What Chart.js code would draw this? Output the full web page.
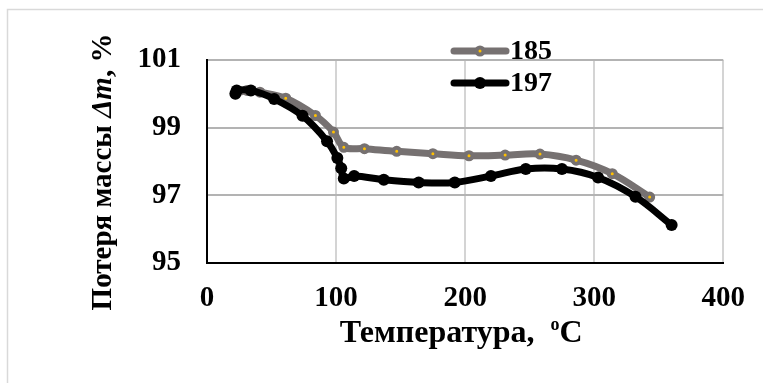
<!DOCTYPE html>
<html>
<head>
<meta charset="utf-8">
<script src="https://cdn.jsdelivr.net/npm/chart.js@4.4.1/dist/chart.umd.min.js"></script>
<style>
  html, body { margin: 0; padding: 0; background: #fff; }
  #wrap { position: relative; width: 763px; height: 383px; }
</style>
</head>
<body>
<div id="wrap"><canvas id="chart" width="763" height="383"></canvas></div>
<script>
// данные
const seriesNames = ['185', '197'];
const temp185 = [22, 31, 41, 61, 84, 98, 106, 122, 147, 175, 203, 231, 258, 286, 314, 343];
const mass185 = [100.0, 100.1, 100.05, 99.87, 99.36, 98.87, 98.42, 98.38, 98.30, 98.23, 98.17, 98.19, 98.22, 98.04, 97.64, 96.95];
const temp197 = [22, 23, 34, 52, 74, 93, 101, 104, 106, 114, 137, 164, 192, 220, 247, 275, 303, 332, 360];
const mass197 = [100.0, 100.1, 100.1, 99.85, 99.35, 98.6, 98.1, 97.8, 97.5, 97.57, 97.46, 97.38, 97.38, 97.57, 97.78, 97.78, 97.53, 96.96, 96.12];
const xTicks = [0, 100, 200, 300, 400];
const yTicks = [95, 97, 99, 101];
const xTitleParts = [['Температура,  ', 'normal'], ['o', 'sup'], ['C', 'normal']];
const yTitleParts = [['Потеря массы ', 'normal'], ['Δm', 'italic'], [', %', 'normal']];

const FONT = '"Liberation Serif", "Times New Roman", serif';
const tickFont = { family: FONT, size: 29, weight: 'bold' };

function pts(xs, ys) {
    return xs.map((x, i) => ({x: x, y: ys[i]}));
}

function drawParts(ctx, parts, size) {
    let w = 0;
    const fonts = parts.map(p => {
        if (p[1] === 'sup') return 'bold ' + Math.round(size * 0.55) + 'px ' + FONT;
        if (p[1] === 'italic') return 'italic bold ' + size + 'px ' + FONT;
        return 'bold ' + size + 'px ' + FONT;
    });
    parts.forEach((p, i) => { ctx.font = fonts[i]; w += ctx.measureText(p[0]).width; });
    let x = -w / 2;
    parts.forEach((p, i) => {
        ctx.font = fonts[i];
        ctx.fillText(p[0], x, p[1] === 'sup' ? -size * 0.36 : 0);
        x += ctx.measureText(p[0]).width;
    });
}

const decor = {
    id: 'decor',
    beforeDraw(chart) {
        const ctx = chart.ctx;
        ctx.save();
        ctx.fillStyle = '#fff';
        ctx.fillRect(0, 0, chart.width, chart.height);
        ctx.strokeStyle = '#d9d9d9';
        ctx.lineWidth = 1.5;
        ctx.strokeRect(7.5, 9.5, 900, 500);
        ctx.restore();
    },
    afterDraw(chart) {
        const ctx = chart.ctx;
        const a = chart.chartArea;
        ctx.save();
        ctx.fillStyle = '#000';
        ctx.textBaseline = 'alphabetic';
        ctx.textAlign = 'left';

        // подпись оси X
        ctx.save();
        ctx.translate((a.left + a.right) / 2 - 4, 342);
        drawParts(ctx, xTitleParts, 32);
        ctx.restore();

        // подпись оси Y
        ctx.save();
        ctx.translate(111, 172);
        ctx.rotate(-Math.PI / 2);
        drawParts(ctx, yTitleParts, 29);
        ctx.restore();

        // легенда
        const rows = [51, 83];
        chart.data.datasets.forEach((ds, i) => {
            const y = rows[i];
            ctx.save();
            ctx.strokeStyle = ds.borderColor;
            ctx.lineWidth = ds.borderWidth;
            ctx.lineCap = 'round';
            ctx.beginPath();
            ctx.moveTo(454, y);
            ctx.lineTo(506, y);
            ctx.stroke();
            ctx.beginPath();
            ctx.arc(480, y, ds.pointRadius, 0, Math.PI * 2);
            ctx.fillStyle = ds.pointBackgroundColor;
            ctx.fill();
            if (ds.pointBorderWidth) {
                ctx.lineWidth = ds.pointBorderWidth;
                ctx.strokeStyle = ds.pointBorderColor;
                ctx.stroke();
            }
            ctx.restore();
            ctx.font = 'bold 28px ' + FONT;
            ctx.fillText(ds.label, 510, y + 8);
        });
        ctx.restore();
    }
};

new Chart(document.getElementById('chart'), {
    type: 'line',
    data: {
        datasets: [{
            label: seriesNames[0],
            data: pts(temp185, mass185),
            borderColor: '#767171',
            borderWidth: 7,
            pointRadius: 3.5,
            pointBorderWidth: 4,
            pointBackgroundColor: '#FFC000',
            pointBorderColor: '#767171',
            tension: 0.35,
            borderCapStyle: 'round',
            borderJoinStyle: 'round',
            order: 1
        }, {
            label: seriesNames[1],
            data: pts(temp197, mass197),
            borderColor: '#000000',
            borderWidth: 7,
            pointRadius: 6,
            pointBorderWidth: 0,
            pointBackgroundColor: '#000000',
            pointBorderColor: '#000000',
            tension: 0.35,
            borderCapStyle: 'round',
            borderJoinStyle: 'round',
            order: 0
        }]
    },
    options: {
        responsive: false,
        animation: false,
        devicePixelRatio: 1,
        layout: { padding: { top: 60, right: 31, left: 0, bottom: 0 } },
        plugins: { legend: { display: false }, tooltip: { enabled: false } },
        scales: {
            x: {
                type: 'linear',
                min: 0,
                max: 400,
                afterBuildTicks: s => { s.ticks = xTicks.map(v => ({value: v})); },
                afterFit: s => { s.height = 120; },
                ticks: { font: tickFont, color: '#000', padding: 18 },
                grid: { color: '#d4d4d4', lineWidth: 2, drawTicks: false },
                border: { color: '#000', width: 2 }
            },
            y: {
                min: 95,
                max: 101,
                afterBuildTicks: s => { s.ticks = yTicks.map(v => ({value: v})); },
                afterFit: s => { s.width = 207; },
                ticks: { font: tickFont, color: '#000', padding: 26 },
                grid: { color: '#b3b3b3', lineWidth: 2, drawTicks: false },
                border: { color: '#000', width: 2 }
            }
        }
    },
    plugins: [decor]
});
</script>
</body>
</html>
